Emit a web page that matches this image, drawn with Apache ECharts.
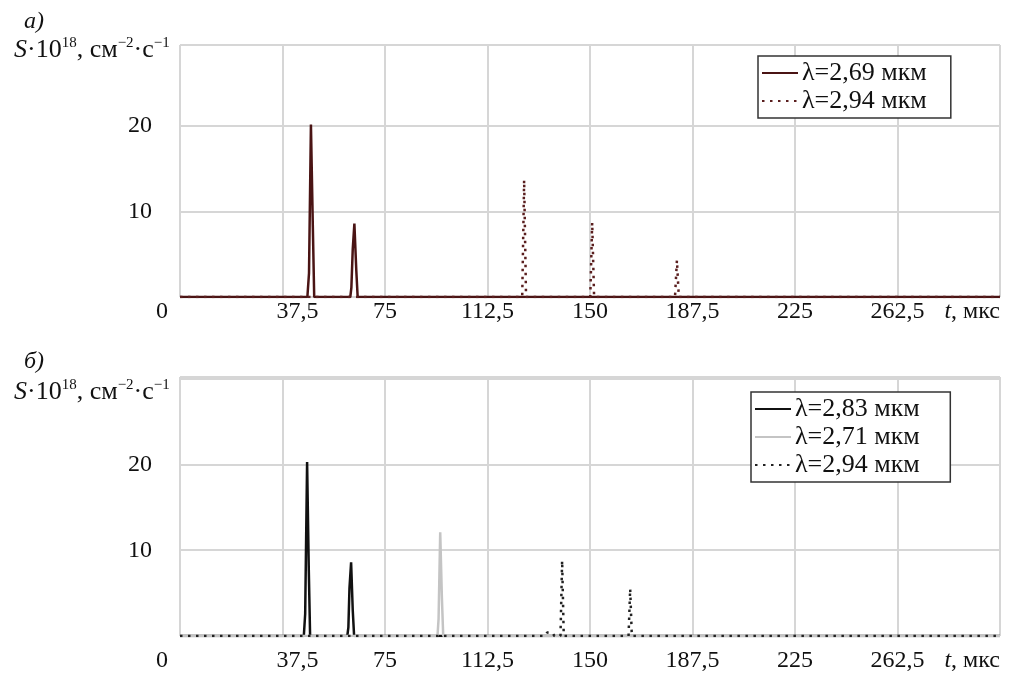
<!DOCTYPE html>
<html>
<head>
<meta charset="utf-8">
<script src="https://cdn.jsdelivr.net/npm/echarts@6/dist/echarts.min.js"></script>
<style>
    html, body { margin: 0; padding: 0; background: #fff; }
    #chart { width: 1012px; height: 674px; }
</style>
</head>
<body>
<div id="chart"></div>
<script>
    // ---------- данные ----------
    // а) λ=2,69 мкм
    var tA1 = [0, 46.6, 47.2, 47.9, 48.6, 49.1, 62.3, 62.7, 63.2, 63.8, 64.5, 65.0, 300];
    var sA1 = [0, 0, 2.8, 20.2, 8.2, 0, 0, 1.1, 5.6, 8.6, 3.1, 0, 0];
    // а) λ=2,94 мкм
    var tA2 = [0, 125.2, 125.9, 126.6, 150.1, 150.8, 151.5, 181.1, 181.8, 182.5, 300];
    var sA2 = [0, 0, 13.7, 0, 0, 8.7, 0, 0, 4.3, 0, 0];

    // б) λ=2,83 мкм
    var tB1 = [0, 45.3, 45.8, 46.5, 47.1, 47.6, 61.2, 61.6, 62.0, 62.6, 63.2, 63.7, 300];
    var sB1 = [0, 0, 2.6, 20.3, 8.0, 0, 0, 1.0, 5.6, 8.6, 3.0, 0, 0];
    // б) λ=2,71 мкм
    var tB2 = [0, 94.2, 94.6, 95.2, 95.8, 96.3, 300];
    var sB2 = [0, 0, 2.0, 12.1, 4.6, 0, 0];
    // б) λ=2,94 мкм
    var tB3 = [0, 133.5, 134.3, 136.2, 137.0, 139.2, 139.8, 140.4, 164.1, 164.7, 165.3, 300];
    var sB3 = [0, 0, 0.4, 0.4, 0, 0, 8.8, 0, 0, 5.5, 0, 0];

    var xTicks = [0, 37.5, 75, 112.5, 150, 187.5, 225, 262.5, 300];
    var yTicks = [10, 20];

    var namesA = ['λ=2,69 мкм', 'λ=2,94 мкм'];
    var namesB = ['λ=2,83 мкм', 'λ=2,71 мкм', 'λ=2,94 мкм ']; // пробел в конце - чтобы имя не совпало с верхним

    var FONT = 'Liberation Serif';

    function pts(t, s) {
        return t.map(function (v, i) { return [v, s[i]]; });
    }

    // подписи оси t, запятая вместо точки
    function xFmt(v) {
        if (xTicks.indexOf(v) < 0) return '';
        if (v === 300) return '{it|t}, мкс';
        if (v === 0) return '{l|0}';
        if (v === 37.5) return '{r|37,5}';
        return String(v).replace('.', ',');
    }
    var xRich = {
        it: { fontStyle: 'italic', fontFamily: FONT, fontSize: 24, color: '#111' },
        l: { padding: [0, 36, 0, 0], fontFamily: FONT, fontSize: 24, color: '#111' },
        r: { padding: [0, 0, 0, 30], fontFamily: FONT, fontSize: 24, color: '#111' }
    };

    function xAxisCfg(idx, margin) {
        return {
            type: 'value', gridIndex: idx, min: 0, max: 300, interval: 37.5,
            axisLine: { show: false }, axisTick: { show: false },
            splitLine: { lineStyle: { color: '#d6d6d6', width: 2 } },
            axisLabel: {
                margin: margin, fontFamily: FONT, fontSize: 24, color: '#111',
                formatter: xFmt, rich: xRich, alignMaxLabel: 'right'
            }
        };
    }
    function yAxisCfg(idx, max) {
        return {
            type: 'value', gridIndex: idx, min: 0, max: max, interval: 10,
            axisLine: { show: false }, axisTick: { show: false },
            splitLine: { lineStyle: { color: '#d6d6d6', width: 2 } },
            axisLabel: {
                margin: 28, fontFamily: FONT, fontSize: 24, color: '#111',
                formatter: function (v) { return yTicks.indexOf(v) >= 0 ? String(v) : ''; }
            }
        };
    }

    // подпись оси S со степенями
    var sTitle = '{i|S}·10{u|18}, см{u|−2}·с{u|−1}';
    var sRich = {
        i: { fontStyle: 'italic', fontFamily: FONT, fontSize: 26, lineHeight: 28, color: '#111' },
        u: { fontFamily: FONT, fontSize: 15, lineHeight: 28, verticalAlign: 'top', color: '#111' }
    };
    function titleCfg(x, y, text, rich, italic, size) {
        return {
            text: text, left: x, top: y, padding: 0,
            textStyle: {
                fontFamily: FONT, fontSize: size, lineHeight: 28, color: '#111',
                fontWeight: 'normal', fontStyle: italic ? 'italic' : 'normal', rich: rich
            }
        };
    }

    function legendCfg(names, x, y) {
        return {
            data: names, orient: 'vertical', left: x, top: y,
            itemWidth: 36, itemHeight: 12, itemGap: 0,
            padding: [3, 24, 3, 3],
            borderColor: '#333', borderWidth: 1.5, backgroundColor: '#fff',
            selectedMode: false,
            itemStyle: { opacity: 0 },   // только линия, без кружка
            textStyle: { fontFamily: FONT, fontSize: 26, lineHeight: 28, color: '#111', padding: [0, 0, 0, -1] }
        };
    }

    var dots = [2.5, 5.5];

    var option = {
        animation: false,
        backgroundColor: '#fff',
        title: [
            titleCfg(24, 8, 'а)', null, true, 24),
            titleCfg(14, 36, sTitle, sRich, false, 26),
            titleCfg(24, 348, 'б)', null, true, 24),
            titleCfg(14, 378, sTitle, sRich, false, 26)
        ],
        legend: [
            legendCfg(namesA, 758, 56),
            legendCfg(namesB, 751, 392)
        ],
        grid: [
            { left: 180, right: 12, top: 45, height: 252, show: true, borderColor: '#555', borderWidth: 1 },
            { left: 180, right: 12, top: 377, height: 259, show: true, borderColor: '#555', borderWidth: 1 }
        ],
        xAxis: [xAxisCfg(0, 3), xAxisCfg(1, 13)],
        yAxis: [yAxisCfg(0, 29.5), yAxisCfg(1, 30.2)],
        series: [
            {
                name: namesA[0], type: 'line', xAxisIndex: 0, yAxisIndex: 0, symbol: 'none',
                data: pts(tA1, sA1), color: '#4a1414',
                lineStyle: { color: '#4a1414', width: 2.5 }
            },
            {
                name: namesA[1], type: 'line', xAxisIndex: 0, yAxisIndex: 0, symbol: 'none',
                data: pts(tA2, sA2), color: '#5a1e1e',
                lineStyle: { color: '#5a1e1e', width: 2.5, type: dots }
            },
            {
                name: namesB[0], type: 'line', xAxisIndex: 1, yAxisIndex: 1, symbol: 'none',
                data: pts(tB1, sB1), color: '#111',
                lineStyle: { color: '#111', width: 2.5 }
            },
            {
                name: namesB[1], type: 'line', xAxisIndex: 1, yAxisIndex: 1, symbol: 'none',
                data: pts(tB2, sB2), color: '#c4c4c4',
                lineStyle: { color: '#c4c4c4', width: 2.5 }
            },
            {
                name: namesB[2], type: 'line', xAxisIndex: 1, yAxisIndex: 1, symbol: 'none',
                data: pts(tB3, sB3), color: '#222',
                lineStyle: { color: '#222', width: 2.5, type: dots }
            }
        ]
    };

    var chart = echarts.init(document.getElementById('chart'));
    chart.setOption(option);
</script>
</body>
</html>
